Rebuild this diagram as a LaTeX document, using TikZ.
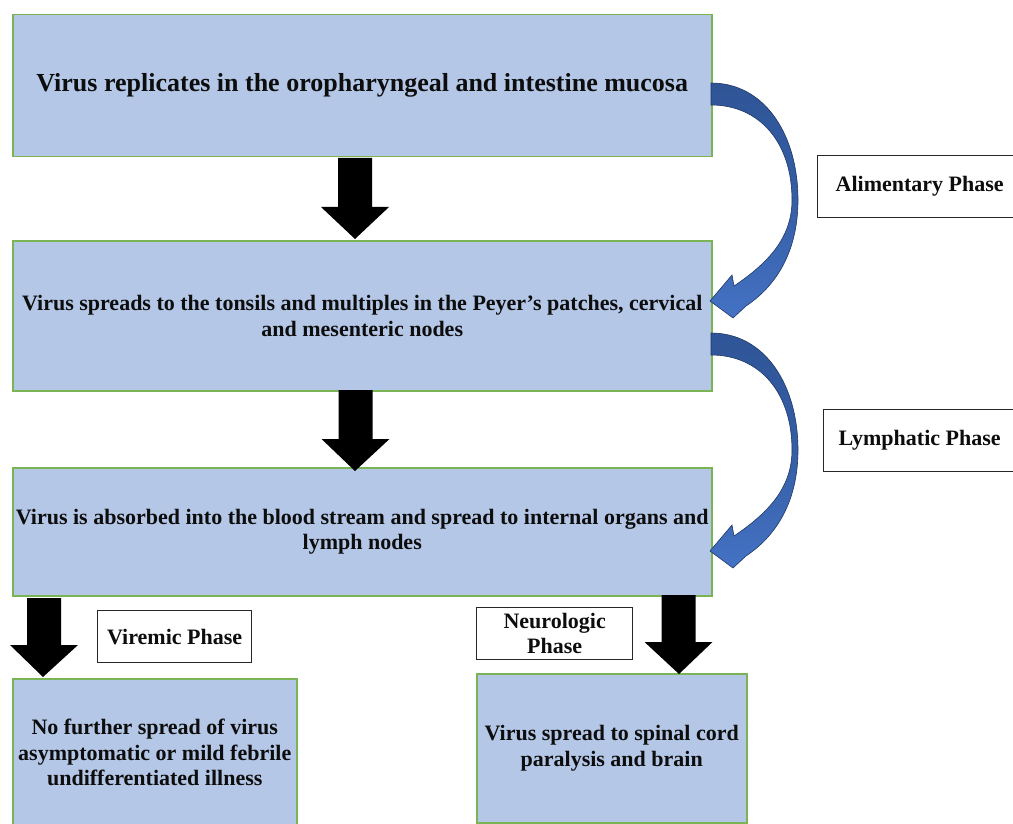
\documentclass[tikz,border=0pt]{standalone}
\usepackage{fontspec}
\setmainfont{Liberation Serif}
\usetikzlibrary{calc}
\definecolor{boxblue}{RGB}{180,199,231}
\definecolor{boxgreen}{RGB}{122,180,84}
\definecolor{arrdark}{RGB}{47,85,151}
\definecolor{arrlight}{RGB}{68,114,196}
\definecolor{arrline}{RGB}{32,56,100}
\newcommand\blkarrow[2]{%
  \fill[black] let \p1=(#1), \p2=(#2) in
    (\x1-17pt,\y1) -- (\x1+17pt,\y1) -- (\x1+17pt,\y2+32pt) -- (\x1+34pt,\y2+32pt)
    -- (\x2,\y2) -- (\x1-34pt,\y2+32pt) -- (\x1-17pt,\y2+32pt) -- cycle;}
\newcommand\curvedarrow[1]{%
  \begin{scope}[shift={(0,#1)}]
  \path[top color=arrdark, bottom color=arrlight, middle color=arrdark!70!arrlight, draw=arrline, line width=0.6pt]
    (711,83) .. controls (765,83) and (798,135) .. (798,200)
    .. controls (798,248) and (779,284) .. (746,306)
    -- (733,318) -- (710,301) -- (732,275) -- (734,286)
    .. controls (768,263) and (792,238) .. (792,200)
    .. controls (792,143) and (760,105) .. (711,105) -- cycle;
  \end{scope}}
\begin{document}
\begin{tikzpicture}[x=1pt,y=-1pt,
  box/.style={draw=boxgreen, line width=1.5pt, fill=boxblue, inner sep=0pt, anchor=north west,
    font=\bfseries\fontsize{22}{25.5}\selectfont, align=center, text=black!95},
  phase/.style={draw=black!85, line width=1.3pt, fill=white, inner sep=0pt, anchor=north west,
    font=\bfseries\fontsize{22}{25}\selectfont, align=center, text=black!95}]
\useasboundingbox (0,0) rectangle (1013,824);
\clip (0,0) rectangle (1013,824);

% main boxes
\node[box, minimum width=699pt, minimum height=142pt, font=\bfseries\fontsize{26}{30}\selectfont] (b1) at (12,14)
  {Virus replicates in the oropharyngeal and intestine mucosa};
\node[box, minimum width=699pt, minimum height=150pt] (b2) at (12,240)
  {Virus spreads to the tonsils and multiples in the Peyer’s patches, cervical\\and mesenteric nodes};
\node[box, minimum width=699pt, minimum height=128pt] (b3) at (12,467)
  {Virus is absorbed into the blood stream and spread to internal organs and\\lymph nodes};
\node[box, minimum width=284pt, minimum height=148pt] (b4) at (12,678)
  {No further spread of virus\\asymptomatic or mild febrile\\undifferentiated illness};
\node[box, minimum width=270pt, minimum height=149pt] (b5) at (476,673)
  {Virus spread to spinal cord\\paralysis and brain};

% phase labels
\node[phase, minimum width=204pt, minimum height=62pt] (alim) at (817,155) {Alimentary Phase};
\node[phase, minimum width=192pt, minimum height=62pt] (lymph) at (823,409) {Lymphatic Phase};
\node[phase, minimum width=154pt, minimum height=52pt] (vir) at (97,610) {Viremic Phase};
\node[phase, minimum width=156pt, minimum height=52pt] (neu) at (476,607) {Neurologic\\Phase};

% block arrows
\coordinate (a1s) at (355,158); \coordinate (a1t) at (355,239);
\coordinate (a2s) at (355.5,390); \coordinate (a2t) at (355,471);
\coordinate (a3s) at (44,598); \coordinate (a3t) at (43,677);
\coordinate (a4s) at (678.5,595); \coordinate (a4t) at (679,674);
\blkarrow{a1s}{a1t}
\blkarrow{a2s}{a2t}
\blkarrow{a3s}{a3t}
\blkarrow{a4s}{a4t}

% curved arrows
\curvedarrow{0}
\curvedarrow{250}
\end{tikzpicture}
\end{document}
